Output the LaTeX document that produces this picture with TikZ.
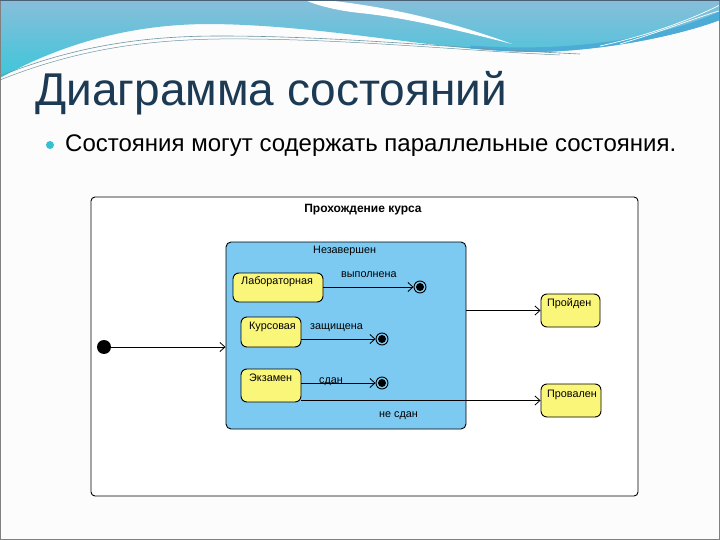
\documentclass[tikz,border=0pt]{standalone}
\usepackage{fontspec}
\setmainfont{Liberation Sans}
\usetikzlibrary{arrows.meta,calc}
\definecolor{slidebg}{RGB}{252,252,252}
\definecolor{titlecol}{RGB}{28,58,84}
\definecolor{bandtop}{RGB}{136,190,218}
\definecolor{bandbot}{RGB}{60,198,218}
\definecolor{banddeep}{RGB}{76,172,214}
\definecolor{bulletcol}{RGB}{52,192,212}
\definecolor{compblue}{RGB}{124,202,242}
\definecolor{stateyellow}{RGB}{250,246,122}
\definecolor{thinline}{RGB}{110,150,165}
\begin{document}
\begin{tikzpicture}[x=1pt,y=-1pt,
  frame/.style={draw=black, fill=white, line width=0.9pt, rounded corners=4pt, minimum width=547pt, minimum height=299pt, inner sep=0pt},
  comp/.style={draw=black, fill=compblue, line width=0.9pt, rounded corners=5pt, minimum width=240pt, minimum height=187pt, inner sep=0pt},
  ybox/.style={draw=black, fill=stateyellow, line width=0.9pt, rounded corners=6pt, inner sep=0pt},
  initst/.style={circle, fill=black, minimum size=14pt, inner sep=0pt},
  final/.style={circle, draw=black, line width=0.9pt, minimum size=12pt, inner sep=0pt,
    path picture={\fill[black] (path picture bounding box.center) circle (4pt);}},
  arr/.style={draw=black, line width=0.8pt, -{Straight Barb[length=5pt,width=9pt,line width=0.8pt]}},
  lbl/.style={font=\fontsize{10.8}{12}\selectfont, inner sep=0pt, anchor=base west},
]
\useasboundingbox (0,0) rectangle (720,540);
% slide background
\fill[slidebg] (0,0) rectangle (720,540);
% top decorative band
\shade[top color=bandtop, bottom color=bandbot]
  (0,0) -- (720,0) -- (720,20) .. controls (680,35) and (610,50) .. (540,52)
  .. controls (440,52) and (330,25) .. (210,24)
  .. controls (120,24) and (50,50) .. (0,78) -- cycle;
\begin{scope}
\clip (0,0) -- (720,0) -- (720,20) .. controls (680,35) and (610,50) .. (540,52)
  .. controls (440,52) and (330,25) .. (210,24)
  .. controls (120,24) and (50,50) .. (0,78) -- cycle;
\draw[banddeep, line width=9pt] (470,50) .. controls (580,58) and (670,40) .. (725,14);
\fill[white] (325,0) .. controls (400,8) and (460,25) .. (512,44)
  .. controls (450,28) and (400,17) .. (360,13) .. controls (340,11) and (318,6) .. (305,0) -- cycle;
\draw[white, line width=0.7pt] (600,46) .. controls (650,35) and (690,20) .. (722,4);
\draw[white, line width=0.7pt] (620,44) .. controls (660,32) and (695,18) .. (722,10);
\end{scope}
\draw[thinline, line width=0.6pt] (0,76) .. controls (80,44) and (150,36) .. (220,36) .. controls (340,36) and (450,48) .. (580,54);
\draw[thinline, line width=0.5pt] (0,80) .. controls (80,48) and (150,40) .. (220,39) .. controls (340,38) and (450,50) .. (560,55);
% slide border
\draw[gray, line width=1pt] (0.5,0.5) rectangle (719.5,539.5);
\draw[titlecol!80, line width=1.5pt] (0,0.75) -- (720,0.75);
% title and bullet
\node[inner sep=0pt, anchor=base west, text=titlecol] (title) at (35,106)
  {\resizebox{472pt}{!}{\fontsize{46}{50}\selectfont Диаграмма состояний}};
\node[circle, fill=bulletcol, minimum size=8pt, inner sep=0pt] (bullet) at (50,145) {};
\node[inner sep=0pt, anchor=base west] (btext) at (65,152)
  {\resizebox{611pt}{!}{\fontsize{22}{26}\selectfont Состояния могут содержать параллельные состояния.}};
% diagram
\node[frame] (frame) at (364.5,346.5) {};
\node[font=\bfseries\fontsize{12}{14}\selectfont, inner sep=0pt, anchor=base] (ftitle) at (363,212) {Прохождение курса};
\node[comp] (comp) at (346,335.5) {};
\node[lbl] (compl) at (313,254) {Незавершен};
\node[ybox, minimum width=90pt, minimum height=29pt] (lab) at (278,287.5) {};
\node[ybox, minimum width=60pt, minimum height=30pt] (kurs) at (271,332) {};
\node[ybox, minimum width=60pt, minimum height=33pt] (ekz) at (271,385.5) {};
\node[ybox, minimum width=59pt, minimum height=33pt] (proid) at (570.5,310.5) {};
\node[ybox, minimum width=60pt, minimum height=33pt] (proval) at (571,400.5) {};
\node[lbl] (labl) at (241,284) {Лабораторная};
\node[lbl] (kursl) at (249,329) {Курсовая};
\node[lbl] (ekzl) at (249,381) {Экзамен};
\node[lbl] (proidl) at (547,306) {Пройден};
\node[lbl] (provall) at (547,397) {Провален};
\node[initst] (init) at (104,347) {};
\node[final] (f1) at (420,287) {};
\node[final] (f2) at (382,339) {};
\node[final] (f3) at (382,383) {};
% transitions
\draw[arr] (init) -- (init -| comp.west);
\draw[arr] (lab.east |- f1) -- (f1.west);
\draw[arr] (kurs.east |- f2) -- (f2.west);
\draw[arr] (ekz.east |- f3) -- (f3.west);
\draw[arr] (ekz.east |- proval.west) -- (proval.west);
\draw[arr] (comp.east |- proid.west) -- (proid.west);
\node[lbl] (t1) at (341,277) {выполнена};
\node[lbl] (t2) at (310,329) {защищена};
\node[lbl] (t3) at (319,383) {сдан};
\node[lbl] (t4) at (379,417) {не сдан};
\end{tikzpicture}
\end{document}
